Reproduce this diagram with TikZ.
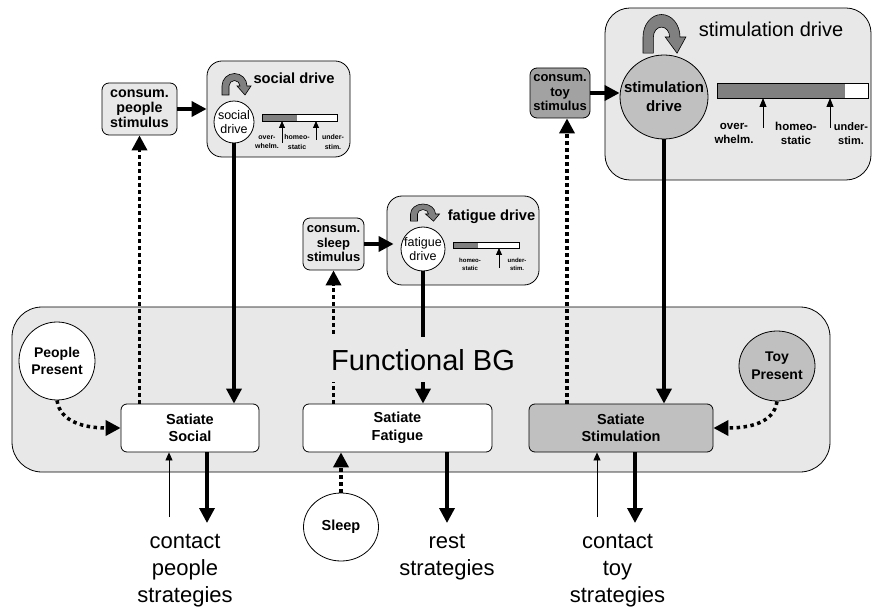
\documentclass[tikz,border=0pt]{standalone}
\usepackage{fontspec}
\setmainfont{Liberation Sans}
\usetikzlibrary{arrows.meta,shapes.geometric}
\definecolor{bgg}{HTML}{E8E8E8}
\definecolor{midg}{HTML}{C0C0C0}
\definecolor{darkg}{HTML}{A2A2A2}
\definecolor{barg}{HTML}{808080}
\newcommand{\fsz}[2]{\fontsize{#1}{#2}\selectfont}
\begin{document}
\begin{tikzpicture}[x=1pt,y=-1pt,
  box/.style={draw=black, line width=0.8pt, fill=bgg, inner sep=0pt},
  drvc/.style={draw=black, ellipse, line width=0.8pt, fill=white, inner sep=0pt},
  satbox/.style={box, fill=white, rounded corners=6pt, minimum height=48pt, align=center, font=\bfseries\fsz{14.5}{17.5}},
  cons/.style={box, rounded corners=7pt, align=center},
  thk/.style={line width=3.5pt, -{Triangle[width=15pt,length=15pt]}},
  dotarr/.style={line width=3.5pt, dash pattern=on 3.5pt off 3.5pt, -{Triangle[width=15pt,length=15pt]}},
  thinarr/.style={line width=0.8pt, -{Triangle[width=7pt,length=8pt]}},
  barr/.style={line width=0.8pt, -{Triangle[width=6pt,length=7pt]}},
  sbarr/.style={line width=0.9pt, -{Triangle[width=7pt,length=9pt]}},
  lbls/.style={font=\bfseries\fsz{7}{9.5}, align=center, inner sep=0pt},
  lblf/.style={font=\bfseries\fsz{6}{8}, align=center, inner sep=0pt},
  lblt/.style={font=\bfseries\fsz{11.5}{13.3}, align=center, inner sep=0pt},
  strat/.style={font=\fsz{22}{27}, align=center, inner sep=0pt, anchor=north},
  curl/.pic={
    \begin{scope}[yscale=-1]
      \filldraw[fill=barg, draw=black, line width=0.6pt]
        (-12.5,-9) -- (-12.5,0) arc[start angle=180,end angle=0,radius=12.5]
        -- (16.5,0) -- (10.5,-9) -- (2.5,0) -- (5.5,0)
        arc[start angle=0,end angle=180,radius=5.5] -- (-5.5,-9) -- cycle;
    \end{scope}
  }]
\useasboundingbox (0,0) rectangle (872,609);

% big functional BG box
\node[box, rounded corners=30pt, minimum width=818pt, minimum height=165pt] (bg) at (421,389.5) {};

% social drive
\node[box, rounded corners=15pt, minimum width=143pt, minimum height=96pt] (sdb) at (278.5,109) {};
\node[font=\bfseries\fsz{14.7}{17}, inner sep=0pt] (sdt) at (294,78) {social drive};
\node[drvc, minimum width=40pt, minimum height=42pt,
  label={[font=\fsz{12.5}{13.5}, align=center, inner sep=0pt]center:social\\drive}] (sdc) at (234,122) {};
\pic at (234.5,86) {curl};
\filldraw[fill=white, line width=0.7pt] (262,114) rectangle (337,121);
\fill[barg] (262,114) rectangle (297,121);
\draw[line width=0.7pt] (262,114) rectangle (337,121);
\draw[barr] (282,143) -- (282,121);
\draw[barr] (316,140) -- (316,121);
\node[lbls] (sl1) at (267,142) {over-\\whelm.};
\node[lbls] (sl2) at (297,142) {homeo-\\static};
\node[lbls] (sl3) at (333,142) {under-\\stim.};

% fatigue drive
\node[box, rounded corners=15pt, minimum width=152pt, minimum height=89pt] (fdb) at (463,240.5) {};
\node[font=\bfseries\fsz{14.7}{17}, inner sep=0pt] (fdt) at (491.5,217) {fatigue drive};
\node[drvc, minimum width=44pt, minimum height=44pt,
  label={[font=\fsz{12.5}{13.5}, align=center, inner sep=0pt]center:fatigue\\drive}] (fdc) at (423,249) {};
\pic[yscale=0.8] at (423,214) {curl};
\filldraw[fill=white, line width=0.7pt] (453,242) rectangle (519,248);
\fill[barg] (453,242) rectangle (478,248);
\draw[line width=0.7pt] (453,242) rectangle (519,248);
\draw[barr] (499,268) -- (499,248);
\node[lblf] (fl2) at (470,264) {homeo-\\static};
\node[lblf] (fl3) at (517,264) {under-\\stim.};

% stimulation drive
\node[box, rounded corners=25pt, minimum width=266pt, minimum height=172pt] (stb) at (738,94) {};
\node[font=\fsz{20}{24}, inner sep=0pt] (stt) at (771,29) {stimulation drive};
\node[drvc, fill=midg, minimum width=88pt, minimum height=84pt,
  label={[font=\bfseries\fsz{15}{19}, align=center, inner sep=0pt]center:stimulation\\drive}] (stc) at (664,97) {};
\pic[xscale=1.48, yscale=1.8] at (661.5,37) {curl};
\filldraw[fill=white, line width=0.7pt] (717,83) rectangle (868,98);
\fill[barg] (717,83) rectangle (845,98);
\draw[line width=0.7pt] (717,83) rectangle (868,98);
\draw[sbarr] (763,128) -- (763,98);
\draw[sbarr] (830,128) -- (830,98);
\node[lblt] (tl1) at (734,133.5) {over-\\whelm.};
\node[lblt] (tl2) at (796,133.5) {homeo-\\static};
\node[lblt, font=\bfseries\fsz{11}{13.3}] (tl3) at (851,133.5) {under-\\stim.};

% consummatory stimuli
\node[cons, minimum width=75pt, minimum height=52pt, font=\bfseries\fsz{14.3}{15}] (cp) at (139.5,109) {consum.\\people\\stimulus};
\node[cons, minimum width=61pt, minimum height=52pt, font=\bfseries\fsz{13}{14.5}] (cs) at (333.5,244) {consum.\\sleep\\stimulus};
\node[cons, fill=darkg, minimum width=60pt, minimum height=50pt, font=\bfseries\fsz{13}{14.5}] (ct) at (560,93) {consum.\\toy\\stimulus};

% satiate nodes
\node[satbox, minimum width=138pt] (ss) at (190,428) {Satiate\\Social};
\node[satbox, minimum width=189pt] (sf) at (397.5,428) {Satiate\\Fatigue};
\node[satbox, fill=midg, minimum width=184pt] (sst) at (621,428) {Satiate\\Stimulation};

% releasers
\node[drvc, minimum width=76pt, minimum height=78pt,
  label={[font=\bfseries\fsz{14}{17.7}, align=center, inner sep=0pt]center:People\\Present}] (pp) at (57,361) {};
\node[drvc, fill=midg, minimum width=76pt, minimum height=70pt,
  label={[font=\bfseries\fsz{14}{17.7}, align=center, inner sep=0pt]center:Toy\\Present}] (tp) at (777,366) {};
\node[drvc, minimum width=75pt, minimum height=68pt,
  label={[font=\bfseries\fsz{14.5}{17}, inner sep=0pt]center:Sleep}] (sl) at (341,527) {};

% connectors
\draw[thk] (cp.east) -- (sdb.west);
\draw[thk, shorten >=-7pt] (cs.east) -- (cs.east -| fdb.west);
\draw[thk] (ct.east) -- (ct.east -| stc.west);
\draw[thk] (sdc.south) -- (sdc.south |- ss.north);
\draw[thk] (fdc.south) -- (fdc.south |- sf.north);
\draw[thk] (stc.south) -- (stc.south |- sst.north);
\draw[dotarr] (cp.south |- ss.north) -- (cp.south);
\draw[dotarr] (cs.south |- sf.north) -- (cs.south);
\draw[dotarr] ([xshift=7pt]ct.south |- sst.north) -- ([xshift=7pt]ct.south);
\draw[dotarr] (pp.south) .. controls +(3,22) and +(-35,0) .. (ss.west);
\draw[dotarr] (tp.south) .. controls +(-3,22) and +(35,0) .. (sst.east);
\draw[dotarr] (sl.north) -- (sl.north |- sf.south);

% Functional BG label (covers lines)
\node[fill=bgg, font=\fsz{29}{34}, inner xsep=3pt, inner ysep=12pt, text height=21pt, text depth=0pt, anchor=base] (fbg) at (423,370) {Functional BG};

% outputs
\coordinate (cpo) at (207,523);
\coordinate (cpi) at (169,517);
\coordinate (rso) at (447,523);
\coordinate (cto) at (635,523);
\coordinate (cti) at (597,517);
\draw[thk] (ss.south -| cpo) -- (cpo);
\draw[thinarr] (cpi) -- (cpi |- ss.south);
\draw[thk] (sf.south -| rso) -- (rso);
\draw[thk] (sst.south -| cto) -- (cto);
\draw[thinarr] (cti) -- (cti |- sst.south);
\node[strat] (cps) at (185,534) {contact\\people\\strategies};
\node[strat] (rss) at (447,534) {rest\\strategies};
\node[strat] (cts) at (617.5,534) {contact\\toy\\strategies};
\end{tikzpicture}
\end{document}
